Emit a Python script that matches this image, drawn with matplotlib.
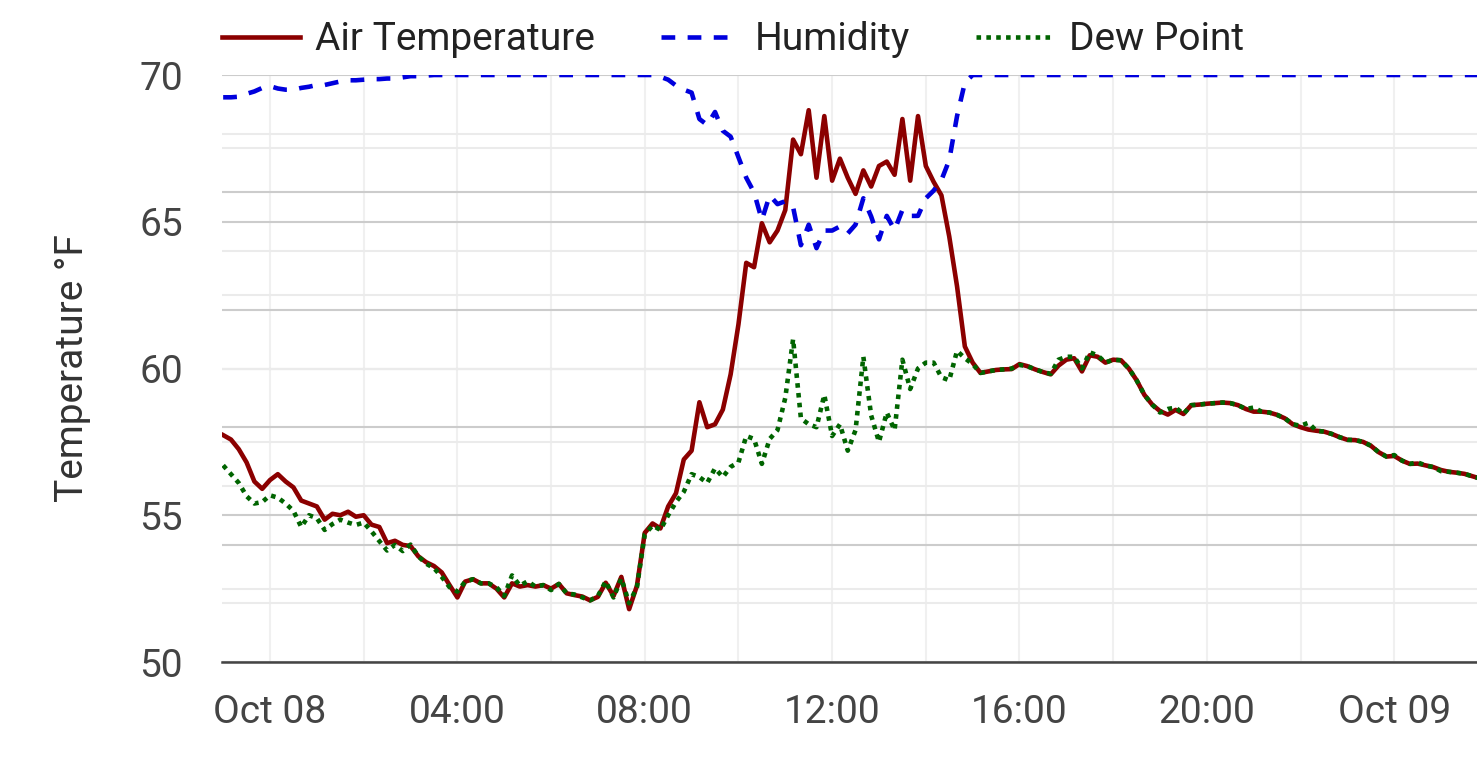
import pandas as pd
import matplotlib
matplotlib.use("Agg")
import matplotlib.pyplot as plt
import matplotlib.dates as mdates
from matplotlib.ticker import FixedLocator, FuncFormatter

plt.rcParams["font.family"] = ["Roboto", "DejaVu Sans"]

# readings every 10 minutes, starting Oct 07 23:00
start = "2023-10-07 23:00"

air_temp = [
    57.73, 57.58, 57.25, 56.8, 56.15, 55.9, 56.2, 56.4, 56.15, 55.95,
    55.5, 55.4, 55.3, 54.85, 55.05, 55.0, 55.12, 54.95, 55.0, 54.68,
    54.6, 54.05, 54.13, 53.99, 53.95, 53.6, 53.4, 53.27, 53.05, 52.62,
    52.2, 52.74, 52.82, 52.68, 52.68, 52.5, 52.2, 52.68, 52.57, 52.62,
    52.57, 52.62, 52.5, 52.66, 52.34, 52.28, 52.23, 52.1, 52.22, 52.7,
    52.25, 52.9, 51.8, 52.6, 54.4, 54.72, 54.55, 55.3, 55.75, 56.9,
    57.2, 58.85, 58.0, 58.1, 58.6, 59.8, 61.5, 63.6, 63.45, 64.95,
    64.3, 64.7, 65.4, 67.8, 67.3, 68.8, 66.5, 68.6, 66.4, 67.15,
    66.5, 65.95, 66.75, 66.2, 66.9, 67.05, 66.6, 68.5, 66.4, 68.6,
    66.9, 66.36, 65.9, 64.5, 62.8, 60.75, 60.2, 59.85, 59.9, 59.95,
    59.97, 59.98, 60.15, 60.08, 59.97, 59.88, 59.8, 60.1, 60.3, 60.35,
    59.9, 60.45, 60.4, 60.2, 60.3, 60.28, 60.0, 59.6, 59.1, 58.77,
    58.55, 58.43, 58.59, 58.45, 58.75, 58.77, 58.8, 58.82, 58.84, 58.82,
    58.75, 58.62, 58.53, 58.53, 58.5, 58.42, 58.3, 58.1, 58.0, 57.92,
    57.88, 57.85, 57.77, 57.66, 57.57, 57.56, 57.5, 57.37, 57.15, 57.0,
    57.02, 56.86, 56.75, 56.76, 56.7, 56.64, 56.54, 56.48, 56.45, 56.41,
    56.33, 56.25,
]

dew_point = [
    56.7, 56.4, 56.1, 55.65, 55.4, 55.45, 55.68, 55.6, 55.4, 55.15,
    54.6, 55.0, 54.9, 54.5, 54.7, 54.85, 54.75, 54.67, 54.75, 54.45,
    54.12, 53.8, 53.99, 53.78, 54.0, 53.6, 53.35, 53.2, 52.9, 52.55,
    52.4, 52.74, 52.82, 52.68, 52.68, 52.55, 52.25, 52.95, 52.6, 52.75,
    52.57, 52.62, 52.45, 52.66, 52.34, 52.3, 52.2, 52.1, 52.25, 52.75,
    52.2, 52.85, 52.0, 52.55, 54.35, 54.65, 54.5, 55.0, 55.45, 55.8,
    56.4, 56.3, 56.1, 56.6, 56.3, 56.65, 56.8, 57.7, 57.6, 56.75,
    57.6, 57.9, 59.0, 61.0, 58.3, 58.1, 58.0, 59.1, 57.7, 58.1,
    57.2, 57.9, 60.4, 58.4, 57.5, 58.5, 57.9, 60.3, 59.3, 60.0,
    60.2, 60.2, 59.7, 59.6, 60.6, 60.35, 60.15, 59.85, 59.9, 59.95,
    59.97, 60.0, 60.12, 60.08, 59.97, 59.88, 59.82, 60.3, 60.4, 60.4,
    60.0, 60.55, 60.45, 60.2, 60.3, 60.28, 60.0, 59.6, 59.1, 58.77,
    58.5, 58.62, 58.67, 58.45, 58.75, 58.77, 58.8, 58.82, 58.84, 58.82,
    58.75, 58.62, 58.67, 58.53, 58.5, 58.42, 58.3, 58.1, 58.05, 58.15,
    57.88, 57.85, 57.77, 57.66, 57.57, 57.56, 57.5, 57.37, 57.15, 57.0,
    57.05, 56.86, 56.75, 56.8, 56.7, 56.64, 56.5, 56.48, 56.45, 56.41,
    56.33, 56.25,
]

humidity = [
    96.2, 96.2, 96.3, 96.8, 97.2, 97.8, 98.1, 97.7, 97.5, 97.5,
    97.8, 98.0, 98.3, 98.3, 98.6, 98.9, 99.1, 99.1, 99.2, 99.3,
    99.3, 99.4, 99.4, 99.6, 99.8, 99.8, 99.9, 100.0, 100.0, 100.0,
    100.0, 100.0, 100.0, 100.0, 100.0, 100.0, 100.0, 100.0, 100.0, 100.0,
    100.0, 100.0, 100.0, 100.0, 100.0, 100.0, 100.0, 100.0, 100.0, 100.0,
    100.0, 100.0, 100.0, 100.0, 100.0, 100.0, 99.7, 99.2, 98.2, 97.5,
    97.0, 92.5, 91.5, 93.7, 90.5, 89.5, 86.0, 82.5, 80.0, 75.3,
    79.5, 78.0, 78.5, 77.5, 71.0, 74.5, 70.5, 73.5, 73.5, 74.2,
    73.0, 74.5, 79.0, 75.9, 72.0, 76.0, 73.6, 77.0, 76.0, 76.0,
    79.0, 80.3, 82.1, 85.5, 93.0, 98.7, 100.0, 100.0, 100.0, 100.0,
    100.0, 100.0, 100.0, 100.0, 100.0, 100.0, 100.0, 100.0, 100.0, 100.0,
    100.0, 100.0, 100.0, 100.0, 100.0, 100.0, 100.0, 100.0, 100.0, 100.0,
    100.0, 100.0, 100.0, 100.0, 100.0, 100.0, 100.0, 100.0, 100.0, 100.0,
    100.0, 100.0, 100.0, 100.0, 100.0, 100.0, 100.0, 100.0, 100.0, 100.0,
    100.0, 100.0, 100.0, 100.0, 100.0, 100.0, 100.0, 100.0, 100.0, 100.0,
    100.0, 100.0, 100.0, 100.0, 100.0, 100.0, 100.0, 100.0, 100.0, 100.0,
    100.0, 100.0,
]

temp_ticks = [50, 55, 60, 65, 70]
temp_minor = [52.5, 57.5, 62.5, 67.5]
hum_ticks = [20, 40, 60, 80]
hum_minor = [10, 30, 50, 70, 90]

times = pd.date_range(start, periods=len(air_temp), freq="10min")
x_left = pd.Timestamp("2023-10-07 22:58:30")
x_right = pd.Timestamp("2023-10-09 01:46:00")

fig = plt.figure(figsize=(14.77, 7.74), dpi=100)
ax = fig.add_axes([0.1503, 0.1447, 0.8497, 0.7584])
ax2 = ax.twinx()

# grids: temperature axis behind, humidity axis grid over it
ax.set_ylim(50, 70)
ax2.set_ylim(0, 100)
ax.set_xlim(x_left, x_right)

ax.yaxis.set_major_locator(FixedLocator(temp_ticks))
ax.yaxis.set_minor_locator(FixedLocator(temp_minor))
ax2.yaxis.set_major_locator(FixedLocator(hum_ticks))
ax2.yaxis.set_minor_locator(FixedLocator(hum_minor))

ax.xaxis.set_major_locator(mdates.HourLocator(byhour=[0, 4, 8, 12, 16, 20]))
ax.xaxis.set_minor_locator(mdates.HourLocator(byhour=[2, 6, 10, 14, 18, 22]))


def fmt_time(x, pos):
    d = mdates.num2date(x)
    return d.strftime("%b %d") if d.hour == 0 else d.strftime("%H:%M")


ax.xaxis.set_major_formatter(FuncFormatter(fmt_time))

ax.grid(True, which="major", axis="y", color="#cccccc", lw=1.5)
ax.grid(True, which="minor", axis="y", color="#ebebeb", lw=1.5)
ax.grid(True, which="both", axis="x", color="#f0f0f0", lw=1.5)
ax2.grid(True, which="major", axis="y", color="#cccccc", lw=1.5)
ax2.grid(True, which="minor", axis="y", color="#ebebeb", lw=1.5)
ax2.set_axisbelow(True)

for sp in ["left", "right", "top"]:
    ax.spines[sp].set_visible(False)
for sp in ax2.spines.values():
    sp.set_visible(False)
ax.spines["bottom"].set_color("#444444")
ax.spines["bottom"].set_linewidth(1.8)

ax.tick_params(axis="y", which="both", length=0, pad=28, labelsize=28, labelcolor="#444444")
ax.tick_params(axis="x", which="both", length=0, pad=23, labelsize=28, labelcolor="#444444")
ax2.tick_params(axis="y", which="both", length=0, right=False, labelright=False)

# all lines on the front axes so every grid line stays underneath
lw = 3.3
l_air, = ax2.plot(times, air_temp, color="#8b0000", lw=lw, label="Air Temperature",
                  transform=ax.transData)
l_dew, = ax2.plot(times, dew_point, color="#006400", lw=lw, label="Dew Point",
                  transform=ax.transData, dashes=(1, 1.15))
l_hum, = ax2.plot(times, humidity, color="#0000dd", lw=lw, label="Humidity",
                  dashes=(3.0, 2.7))
ax.set_xlim(x_left, x_right)
ax.set_ylim(50, 70)
ax2.set_ylim(0, 100)

ax.set_ylabel("Temperature °F", fontsize=28, color="#333333")
ax.yaxis.set_label_coords(-0.104, 0.5)

leg = ax2.legend(handles=[l_air, l_hum, l_dew], loc="center left",
                 bbox_to_anchor=(0, 1.06), ncol=3, frameon=False, fontsize=28,
                 handlelength=2.0, handletextpad=0.4, columnspacing=1.7,
                 borderpad=0, borderaxespad=0)
for t in leg.get_texts():
    t.set_color("#222222")

fig.savefig("out.png", dpi=100)
